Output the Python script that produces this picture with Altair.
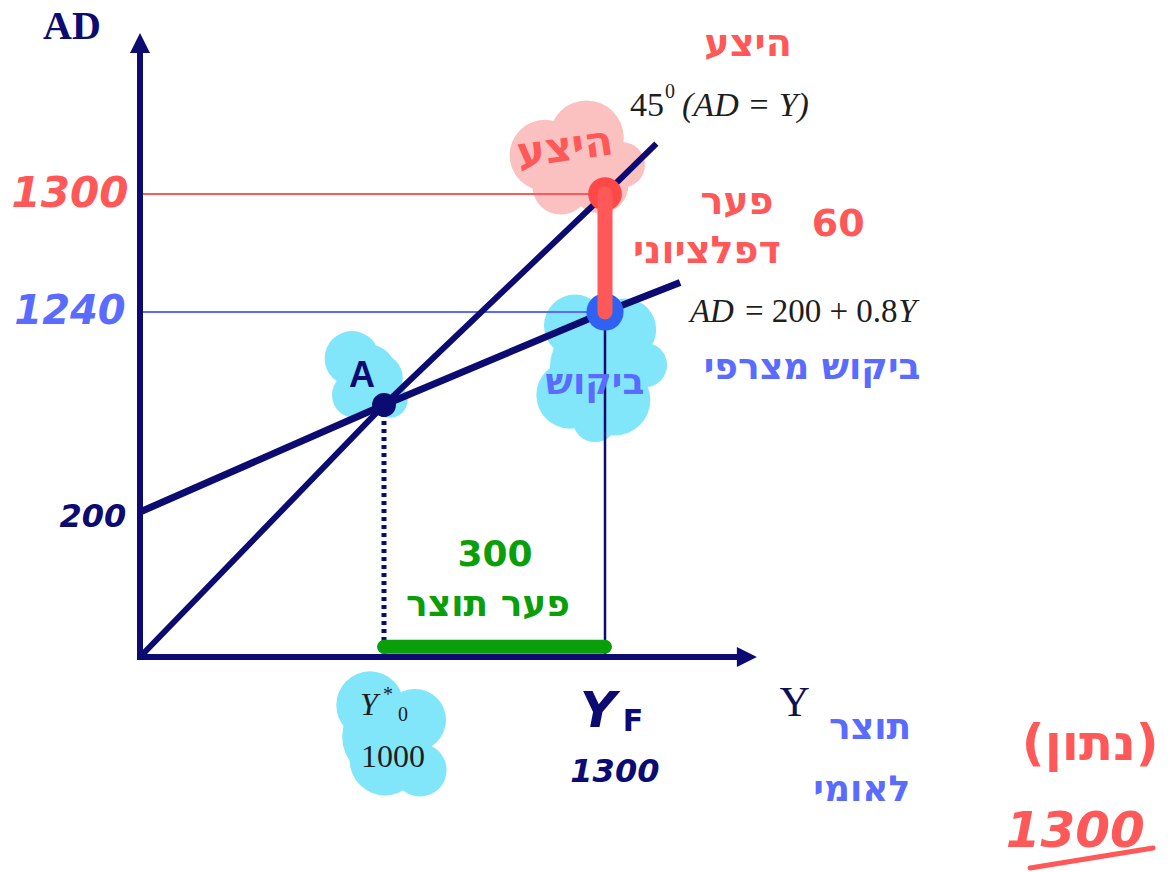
import altair as alt
import pandas as pd

# ---- colours -------------------------------------------------------------
NAVY = "#0b0b72"
RED = "#ff5858"
BLUE_INK = "#5a6cff"
DOT_BLUE = "#2f62f2"
GREEN = "#0a9e0a"
CYAN = "#82e6fb"
PINK = "#fbc0c0"
INK = "#1e1e1e"

# ---- model ---------------------------------------------------------------
# 45-degree line (AD = Y)
line45_y = [0, 1000, 1300, 1313]
line45_ad = [0, 1000, 1300, 1313]

# aggregate demand AD = 200 + 0.8Y
ad_y = [0, 1000, 1300, 1319]
ad_ad = [200, 1000, 1240, 1255]

Y_EQ = 1000          # Y*0, point A
Y_FULL = 1300        # YF, full-employment output
AD_AT_FULL = 1240    # demand at YF
SUPPLY_AT_FULL = 1300

# schematic (piecewise) scales so that the key levels are spread out
XS = alt.Scale(domain=[-574, 0, 1000, 1300, 1444],
               range=[0, 140, 384, 605, 1174], nice=False, zero=False)
YS = alt.Scale(domain=[-297, 0, 200, 1000, 1240, 1300, 1350],
               range=[872, 657, 512, 405, 312, 194, 0], nice=False, zero=False)


def xy(chart, xf="Y", yf="AD"):
    return chart.encode(
        x=alt.X(f"{xf}:Q", scale=XS, axis=None),
        y=alt.Y(f"{yf}:Q", scale=YS, axis=None),
    )


def line(ys, ads, color, width, dash=None, cap="butt"):
    df = pd.DataFrame({"Y": ys, "AD": ads, "o": list(range(len(ys)))})
    kw = dict(color=color, strokeWidth=width, strokeCap=cap)
    if dash:
        kw["strokeDash"] = dash
    return xy(alt.Chart(df).mark_line(**kw)).encode(order="o:Q")


def dots(ys, ads, sizes, color, shape="circle"):
    df = pd.DataFrame({"Y": ys, "AD": ads, "s": sizes})
    return xy(alt.Chart(df).mark_point(filled=True, opacity=1, shape=shape,
                                        color=color, strokeWidth=0)).encode(
        size=alt.Size("s:Q", scale=None, legend=None))


def text(labels, ys, ads, color, size, font="DejaVu Sans", weight="bold",
         style="normal", align="center", baseline="middle", angle=0):
    df = pd.DataFrame({"Y": ys, "AD": ads, "t": labels})
    return xy(alt.Chart(df).mark_text(
        color=color, fontSize=size, font=font, fontWeight=weight,
        fontStyle=style, align=align, baseline=baseline, angle=angle,
    )).encode(text="t:N")


# ---- highlight blobs -----------------------------------------------------
pink_blob = dots([1218.6, 1275.0, 1293.2, 1240.0, 1304.3, 1260.0],
                 [1310.0, 1314.5, 1302.3, 1302.0, 1307.5, 1307.0],
                 [5027, 5542, 3217, 3217, 2100, 6400], PINK)
cyan_a = dots([868.8, 975.3, 881.1, 1008.1, 930.0],
              [1120.1, 1069.7, 1025.8, 1012.9, 1080.0],
              [3000, 2463, 2124, 1257, 3600], CYAN)
cyan_demand = dots([1259.3, 1305.1, 1252.5, 1302.5, 1286.4, 1310.1, 1282.0],
                   [1205.0, 1195.0, 1025.8, 1012.9, 887.8, 1103.2, 1100.0],
                   [3848, 3848, 4536, 5027, 1963, 1963, 7000], CYAN)
cyan_y0 = dots([942.5, 1042.1, 1001.4, 1048.9, 1000.0],
               [-66.3, -87.0, -142.3, -156.1, -110.0],
               [4536, 3848, 5027, 2827, 7000], CYAN)

# ---- guides --------------------------------------------------------------
guide_red = line([-12, Y_FULL], [SUPPLY_AT_FULL, SUPPLY_AT_FULL], RED, 2)
guide_blue = line([-12, Y_FULL], [AD_AT_FULL, AD_AT_FULL], BLUE_INK, 2)

# ---- axes ----------------------------------------------------------------
y_axis = line([0, 0], [0, 1337], NAVY, 6, cap="square")
x_axis = line([0, 1334], [0, 0], NAVY, 6, cap="square")
y_head = dots([0], [1338.9], [400], NAVY, shape="M0,-1L1,1L-1,1Z")
x_head = dots([1335.9], [0], [400], NAVY, shape="M1,0L-1,-1L-1,1Z")

# ---- curves --------------------------------------------------------------
l45 = line(line45_y, line45_ad, NAVY, 6)
lad = line(ad_y, ad_ad, NAVY, 7)
drop_a = line([Y_EQ, Y_EQ], [1000, 5], NAVY, 5, dash=[4, 4])
drop_f = line([Y_FULL, Y_FULL], [AD_AT_FULL, 0], NAVY, 2.5)
output_gap = line([Y_EQ, Y_FULL], [14, 14], GREEN, 14, cap="round")

pt_a = dots([Y_EQ], [1000], [570], NAVY)
pt_supply = dots([Y_FULL], [SUPPLY_AT_FULL], [1134], "#ff4848")
pt_demand = dots([Y_FULL], [AD_AT_FULL], [1385], DOT_BLUE)
defl_gap = line([Y_FULL, Y_FULL], [SUPPLY_AT_FULL, AD_AT_FULL], RED, 15, cap="round")

# ---- printed labels ------------------------------------------------------
SERIF = "Liberation Serif"
t_ad = text(["AD"], [-279], [1343], NAVY, 40, font=SERIF)
t_y = text(["Y"], [1348], [-64], "#101050", 42, font=SERIF, weight="normal")
t_45 = text(["45"], [1306.3], [1320.1], INK, 34, font=SERIF, weight="normal",
            align="left", baseline="alphabetic")
t_45s = text(["0"], [1315.2], [1324.7], INK, 20, font=SERIF, weight="normal",
             align="left", baseline="alphabetic")
t_45e = text(["(AD = Y)"], [1319.5], [1320.1], INK, 34, font=SERIF,
             weight="normal", style="italic", align="left", baseline="alphabetic")
t_adeq1 = text(["AD"], [1321.5], [1214.2], INK, 33, font=SERIF, weight="normal",
               style="italic", align="left", baseline="alphabetic")
t_adeq2 = text(["= 200 + 0.8"], [1335.4], [1214.2], INK, 33, font=SERIF,
               weight="normal", align="left", baseline="alphabetic")
t_adeq3 = text(["Y"], [1374.2], [1214.2], INK, 33, font=SERIF, weight="normal",
               style="italic", align="left", baseline="alphabetic")
t_y0 = text(["Y"], [938.4], [-66.3], INK, 32, font=SERIF, weight="normal", style="italic")
t_y0s = text(["*"], [1005.4], [-52.5], INK, 20, font=SERIF, weight="normal")
t_y0b = text(["0"], [1025.8], [-80.1], INK, 20, font=SERIF, weight="normal")
t_1000 = text(["1000"], [1012.2], [-138.1], INK, 32, font=SERIF, weight="normal")

# ---- handwritten notes ---------------------------------------------------
red_notes = text(["היצע", "פער", "דפלציוני", "60"],
                 [1336.2, 1333.4, 1325.8, 1359],
                 [1338.4, 1295.4, 1270.5, 1284.2], RED, 38)
red_blob_note = text(["היצע"], [1245.7], [1311.9], RED, 42, angle=352)
red_1300 = text(["1300"], [-287], [SUPPLY_AT_FULL], RED, 42, style="italic")
blue_1240 = text(["1240"], [-287], [AD_AT_FULL], BLUE_INK, 40, style="italic")
navy_200 = text(["200"], [-193], [193], NAVY, 32, style="italic")
navy_a = text(["A"], [909.8], [1074.8], NAVY, 36, font="Liberation Sans")
blue_notes = text(["ביקוש", "ביקוש מצרפי", "תוצר", "לאומי"],
                  [1286.4, 1352.4, 1367.1, 1365],
                  [1056.8, 1095.5, -98.1, -183.7], BLUE_INK, 36)
green_notes = text(["300", "פער תוצר"], [1150.7, 1141.2], [140.7, 71.7], GREEN, 36)
navy_yf = text(["Y"], [1290.5], [-76], NAVY, 50, style="italic")
navy_f = text(["F"], [1307.1], [-89.8], NAVY, 30)
navy_1300 = text(["1300"], [1302.5], [-158.9], NAVY, 32, style="italic")
given = text(["(נתון)"], [1422.8], [-121.6], RED, 50)
given_1300 = text(["1300"], [1419], [-241.7], RED, 50, style="italic")
given_line = line([1407.6, 1438.7], [-291.5, -263.8], RED, 5, cap="round")

chart = alt.layer(
    pink_blob, cyan_a, cyan_demand, cyan_y0,
    guide_red, guide_blue,
    y_axis, x_axis, y_head, x_head,
    l45, lad, drop_a, drop_f, output_gap,
    pt_a, pt_supply, pt_demand, defl_gap,
    t_ad, t_y, t_45, t_45s, t_45e, t_adeq1, t_adeq2, t_adeq3,
    t_y0, t_y0s, t_y0b, t_1000,
    red_notes, red_blob_note, red_1300, blue_1240, navy_200, navy_a,
    blue_notes, green_notes, navy_yf, navy_f, navy_1300,
    given, given_1300, given_line,
).properties(
    width=1174, height=872, padding=0,
    autosize=alt.AutoSizeParams(type="none"),
    background="white",
).configure_view(stroke=None)

chart.save("out.html", embed_options={"renderer": "svg", "actions": False})
